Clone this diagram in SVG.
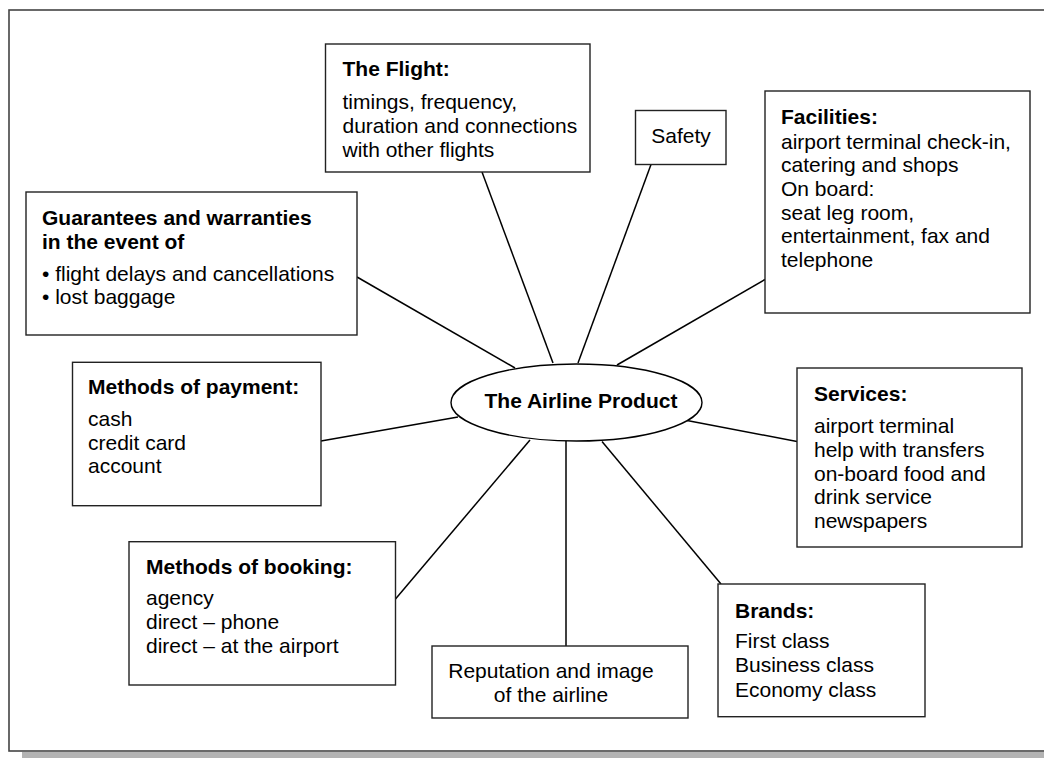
<svg xmlns="http://www.w3.org/2000/svg" width="1044" height="758" viewBox="0 0 1044 758">
<style>
text{font-family:"Liberation Sans",Arial,sans-serif;font-size:21px;fill:#000}
.h{font-weight:bold}
.c{text-anchor:middle}
.box{fill:#fff;stroke:#222;stroke-width:1.4}
.con line{stroke:#000;stroke-width:1.5}
</style>
<rect x="22" y="752" width="1030" height="8" fill="#b3b3b3"/>
<rect x="9" y="10" width="1045" height="741" fill="#fff" stroke="#444" stroke-width="1.6"/>
<g class="con" id="connectors">
<line x1="357" y1="277" x2="515" y2="368"/>
<line x1="482" y1="172" x2="553" y2="363"/>
<line x1="651" y1="164.5" x2="578" y2="363"/>
<line x1="765" y1="279.5" x2="617" y2="365"/>
<line x1="687" y1="420.5" x2="797" y2="441.5"/>
<line x1="321" y1="441" x2="458" y2="417"/>
<line x1="395.5" y1="599" x2="530" y2="440"/>
<line x1="566" y1="441" x2="566" y2="646"/>
<line x1="602" y1="441.5" x2="721" y2="584"/>
</g>
<g id="center">
<ellipse cx="576.5" cy="402.5" rx="125.5" ry="38.5" fill="#fff" stroke="#000" stroke-width="1.4"/>
<text class="h c" x="581" y="408">The Airline Product</text>
</g>
<g id="flight">
<rect class="box" x="325.5" y="44" width="264.5" height="128"/>
<text class="h" x="342.5" y="76">The Flight:</text>
<text x="342.5" y="108.5">timings, frequency,</text>
<text x="342.5" y="132.5">duration and connections</text>
<text x="342.5" y="156.5">with other flights</text>
</g>
<g id="safety">
<rect class="box" x="635.5" y="110.5" width="90.5" height="54"/>
<text class="c" x="681" y="142.7">Safety</text>
</g>
<g id="facilities">
<rect class="box" x="765" y="91" width="265" height="222"/>
<text class="h" x="781" y="124">Facilities:</text>
<text x="781" y="148.5">airport terminal check-in,</text>
<text x="781" y="172.2">catering and shops</text>
<text x="781" y="195.9">On board:</text>
<text x="781" y="219.6">seat leg room,</text>
<text x="781" y="243.3">entertainment, fax and</text>
<text x="781" y="267">telephone</text>
</g>
<g id="guarantees">
<rect class="box" x="26" y="192" width="331" height="143"/>
<text class="h" x="42" y="225">Guarantees and warranties</text>
<text class="h" x="42" y="248.5">in the event of</text>
<text x="42" y="281">• flight delays and cancellations</text>
<text x="42" y="304.3">• lost baggage</text>
</g>
<g id="payment">
<rect class="box" x="72.5" y="362.3" width="248.5" height="143.4"/>
<text class="h" x="88" y="394.3">Methods of payment:</text>
<text x="88" y="425.7">cash</text>
<text x="88" y="449.7">credit card</text>
<text x="88" y="473.3">account</text>
</g>
<g id="services">
<rect class="box" x="797" y="368" width="225" height="179"/>
<text class="h" x="814" y="401">Services:</text>
<text x="814" y="433.3">airport terminal</text>
<text x="814" y="457">help with transfers</text>
<text x="814" y="480.5">on-board food and</text>
<text x="814" y="504.2">drink service</text>
<text x="814" y="527.7">newspapers</text>
</g>
<g id="booking">
<rect class="box" x="129" y="541.7" width="266.5" height="143.3"/>
<text class="h" x="146" y="573.5">Methods of booking:</text>
<text x="146" y="604.5">agency</text>
<text x="146" y="628.7">direct – phone</text>
<text x="146" y="652.7">direct – at the airport</text>
</g>
<g id="reputation">
<rect class="box" x="432" y="646" width="256" height="72"/>
<text class="c" x="551" y="677.7">Reputation and image</text>
<text class="c" x="551" y="701.7">of the airline</text>
</g>
<g id="brands">
<rect class="box" x="718" y="584" width="207" height="132.7"/>
<text class="h" x="735" y="617.7">Brands:</text>
<text x="735" y="648">First class</text>
<text x="735" y="672">Business class</text>
<text x="735" y="696.5">Economy class</text>
</g>
</svg>
